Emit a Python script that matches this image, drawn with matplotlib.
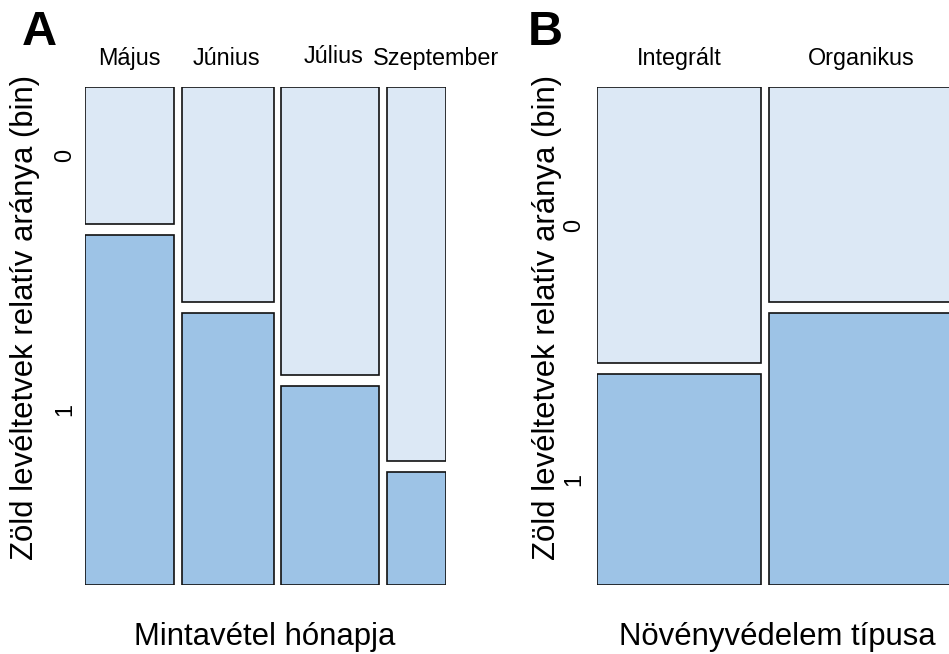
import matplotlib
matplotlib.use("Agg")
import matplotlib.pyplot as plt
from matplotlib.patches import Rectangle
import matplotlib.transforms as mtransforms

plt.rcParams['font.family'] = ['Liberation Sans', 'DejaVu Sans']

# ---- data ----
months = ["Május", "Június", "Július", "Szeptember"]
month_sizes = [89, 92, 98, 59]            # relative sample sizes (column widths)
month_prop0 = [0.281, 0.442, 0.591, 0.768]  # proportion of category "0"

types = ["Integrált", "Organikus"]
type_sizes = [164, 186]
type_prop0 = [0.567, 0.441]

levels = ["0", "1"]
ylab = "Zöld levéltetvek relatív aránya (bin)"
xlab_a = "Mintavétel hónapja"
xlab_b = "Növényvédelem típusa"

# ---- style ----
W, H = 949, 654
col0 = "#DCE8F5"
col1 = "#9DC3E6"
edge = "#111111"
gap_x = 7.5
gap_y = 0.0226
fs_small = 16.8
fs_big = 22.4
# label nudges (pixels) used to avoid overlap, as in the original
nudge_a = [(0, 0), (-1, 0), (3, 2), (20, 0)]
nudge_b = [(0, 0), (0, 0)]

fig = plt.figure(figsize=(W / 100, H / 100), dpi=100)


def fx(x):
    return x / W


def fy(y):
    return 1 - y / H


def mosaic(left_px, width_px, sizes, props, labels, nudges, xlim_max=None):
    ax = fig.add_axes([fx(left_px), fy(585), width_px / W, 498 / H])
    total = sum(sizes) + gap_x * (len(sizes) - 1)
    ax.set_xlim(0, xlim_max if xlim_max is not None else total)
    ax.set_ylim(1 + gap_y, 0)
    ax.axis('off')
    x = 0
    trans = mtransforms.blended_transform_factory(ax.transData, ax.transAxes)
    for s, p, lab, (dx, dy) in zip(sizes, props, labels, nudges):
        ax.add_patch(Rectangle((x, 0), s, p, facecolor=col0, edgecolor=edge,
                               linewidth=1.2, clip_on=True))
        ax.add_patch(Rectangle((x, p + gap_y), s, 1 - p, facecolor=col1,
                               edgecolor=edge, linewidth=1.2, clip_on=True))
        ax.annotate(lab, xy=(x + s / 2, 1 + 22 / 498), xycoords=trans,
                    xytext=(dx * 0.72, dy * 0.72), textcoords='offset points',
                    ha='center', va='baseline', fontsize=fs_small,
                    annotation_clip=False)
        x += s + gap_x
    return ax, total


# Panel A
axA, totA = mosaic(85, 361, month_sizes, month_prop0, months, nudge_a)
p = month_prop0[0]
for yv, lev in [(p / 2, levels[0]), (p + gap_y + (1 - p) / 2, levels[1])]:
    axA.text(-20, yv, lev, rotation=90, ha='center', va='center', fontsize=fs_small,
             transform=axA.transData, clip_on=False)

# Panel B
axB, totB = mosaic(597, 352, type_sizes, type_prop0, types, nudge_b, xlim_max=352)
p = type_prop0[0]
for yv, lev in [(p / 2, levels[0]), (p + gap_y + (1 - p) / 2, levels[1])]:
    axB.text(-23, yv, lev, rotation=90, ha='center', va='center', fontsize=fs_small,
             transform=axB.transData, clip_on=False)

# axis titles
fig.text(fx(25), fy(318), ylab, rotation=90, ha='center', va='center', fontsize=fs_big)
fig.text(fx(547), fy(318), ylab, rotation=90, ha='center', va='center', fontsize=fs_big)
fig.text(fx(265), fy(645), xlab_a, ha='center', va='baseline', fontsize=fs_big)
fig.text(fx(777), fy(645), xlab_b, ha='center', va='baseline', fontsize=fs_big)

# panel letters
fig.text(fx(22), fy(45), "A", ha='left', va='baseline', fontsize=35, fontweight='bold')
fig.text(fx(528), fy(45), "B", ha='left', va='baseline', fontsize=35, fontweight='bold')

fig.savefig("out.png", dpi=100)
